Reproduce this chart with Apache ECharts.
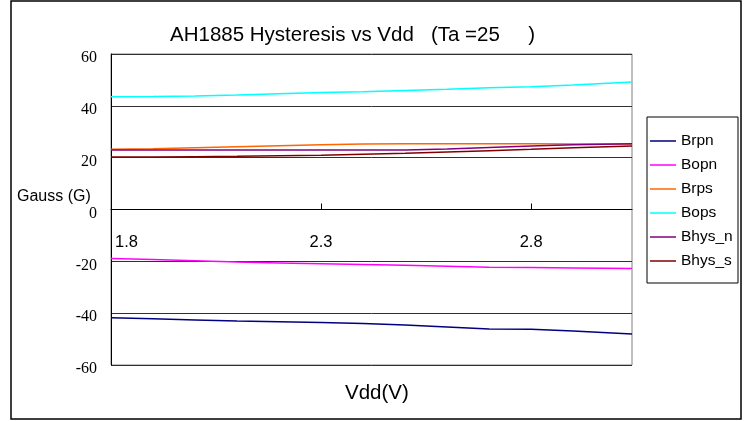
<!DOCTYPE html>
<head>
    <meta charset="utf-8">
    <title>AH1885 Hysteresis vs Vdd</title>
    <script type="text/javascript" src="https://cdn.jsdelivr.net/npm/echarts@6/dist/echarts.min.js"></script>
</head>
<body style="margin:0">
<div id="main" style="width:748px;height:421px"></div>

<script type="text/javascript">
    // data
    var vdd = [1.8, 1.9, 2.0, 2.1, 2.2, 2.3, 2.4, 2.5, 2.6, 2.7, 2.8, 2.9, 3.04];
    var brpn = [-41.8, -42.2, -42.6, -43.0, -43.3, -43.6, -44.0, -44.6, -45.3, -46.1, -46.2, -46.9, -48.0];
    var bopn = [-18.9, -19.3, -19.8, -20.3, -20.6, -20.9, -21.2, -21.5, -21.9, -22.3, -22.4, -22.6, -22.8];
    var brps = [23.2, 23.4, 23.8, 24.2, 24.6, 25.0, 25.3, 25.4, 25.4, 25.4, 25.4, 25.3, 25.3];
    var bops = [43.5, 43.6, 43.8, 44.2, 44.7, 45.1, 45.4, 45.9, 46.4, 47.0, 47.4, 48.0, 49.2];
    var bhysN = [23.0, 23.0, 23.0, 23.0, 23.0, 23.0, 23.0, 23.0, 23.3, 23.9, 24.5, 25.0, 25.4];
    var bhysS = [20.3, 20.3, 20.4, 20.5, 20.7, 20.9, 21.3, 21.7, 22.2, 22.7, 23.2, 23.8, 24.5];

    var names = ['Brpn', 'Bopn', 'Brps', 'Bops', 'Bhys_n', 'Bhys_s'];
    var colors = ['#000080', '#ff00ff', '#ff6600', '#00ffff', '#800080', '#800000'];
    var values = [brpn, bopn, brps, bops, bhysN, bhysS];

    var series = [];
    for (var i = 0; i < names.length; i++) {
        var pts = [];
        for (var j = 0; j < vdd.length; j++) {
            pts.push([vdd[j], values[i][j]]);
        }
        series.push({
            name: names[i],
            type: 'line',
            data: pts,
            symbol: 'none',
            lineStyle: {color: colors[i], width: 1.5},
            itemStyle: {color: colors[i]}
        });
    }

    var myChart = echarts.init(document.getElementById('main'));
    var option = {
        animation: false,
        backgroundColor: '#fff',
        title: {
            text: 'AH1885 Hysteresis vs Vdd   (Ta =25     )',
            left: 165,
            top: 20,
            textStyle: {fontFamily: 'Liberation Sans', fontSize: 20.5, fontWeight: 'normal', color: '#000'}
        },
        legend: {
            orient: 'vertical',
            left: 650,
            top: 133,
            padding: 0,
            icon: 'rect',
            itemWidth: 26,
            itemHeight: 1.5,
            itemGap: 8,
            data: names,
            textStyle: {fontFamily: 'Liberation Sans', fontSize: 15.5, lineHeight: 16, color: '#000'}
        },
        grid: {
            left: 111, right: 116, top: 54, bottom: 56,
            show: true, borderColor: '#808080', borderWidth: 1
        },
        xAxis: {
            type: 'value',
            min: 1.8,
            max: 3.04,
            interval: 0.5,
            axisLine: {onZero: true, lineStyle: {color: '#000', width: 1}},
            axisTick: {inside: true, length: 6, lineStyle: {color: '#000'}},
            axisLabel: {
                // labels sit just under the zero line, not at the bottom of the grid
                margin: -131,
                fontFamily: 'Liberation Sans',
                fontSize: 16.5,
                color: '#000',
                showMaxLabel: false,
                alignMinLabel: 'left',
                formatter: function (v, idx) {
                    return idx === 0 ? '{m|' + v.toFixed(1) + '}' : v.toFixed(1);
                },
                rich: {
                    m: {fontFamily: 'Liberation Sans', fontSize: 16.5, color: '#000', padding: [0, 0, 0, 4]}
                }
            },
            splitLine: {show: false}
        },
        yAxis: {
            type: 'value',
            min: -60,
            max: 60,
            interval: 20,
            axisLine: {show: true, lineStyle: {color: '#000', width: 1}},
            axisTick: {show: false},
            axisLabel: {
                margin: 14,
                formatter: function (v) { return '{s|' + v + '}'; },
                rich: {
                    s: {fontFamily: 'serif', fontSize: 16, color: '#000', padding: [8, 0, 0, 0]}
                }
            },
            splitLine: {lineStyle: {color: '#303030', width: 1}}
        },
        graphic: [
            {
                type: 'rect',
                shape: {x: 11, y: 1, width: 730, height: 418},
                style: {fill: 'none', stroke: '#000', lineWidth: 1.5},
                silent: true
            },
            {
                type: 'rect',
                shape: {x: 647, y: 117, width: 91, height: 166},
                style: {fill: 'none', stroke: '#000', lineWidth: 1},
                silent: true
            },
            {
                type: 'text',
                left: 17,
                top: 189,
                style: {text: 'Gauss (G)', font: '16px "Liberation Sans"', fill: '#000'}
            },
            {
                type: 'text',
                left: 345,
                top: 383,
                style: {text: 'Vdd(V)', font: '20.5px "Liberation Sans"', fill: '#000'}
            }
        ],
        series: series
    };
    myChart.setOption(option);
</script>
</body>
